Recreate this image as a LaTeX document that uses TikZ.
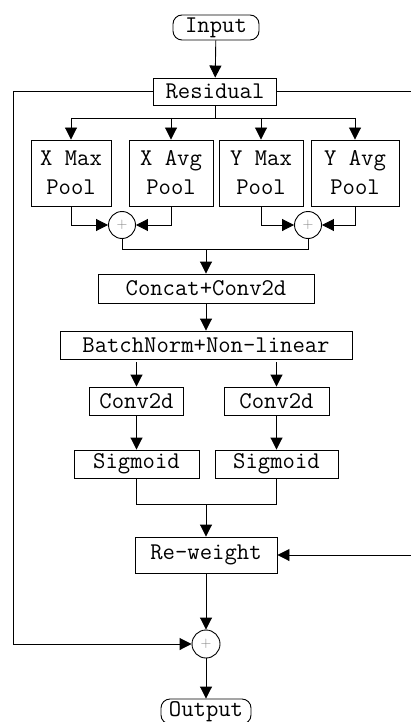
\documentclass[tikz,border=0pt]{standalone}
\usetikzlibrary{arrows.meta,calc}
\begin{document}
\begin{tikzpicture}[x=1pt,y=-1pt,
  box/.style={draw,line width=0.9pt,rectangle,inner sep=0pt,font=\ttfamily\fontsize{24}{29}\selectfont,align=center},
  term/.style={box,rounded corners=9pt},
  sum/.style={draw,line width=0.9pt,circle,inner sep=0pt,minimum size=27pt,text=gray,font=\fontsize{15}{15}\selectfont},
  arr/.style={line width=0.9pt,-{Triangle[length=12pt,width=12pt]}},
  ln/.style={line width=0.9pt}]
\useasboundingbox (0,0) rectangle (411,722);
% nodes
\node[term,minimum width=86pt,minimum height=25pt] (in) at (216,27.5) {Input};
\node[box,minimum width=123pt,minimum height=27pt] (res) at (215,91.5) {Residual};
\node[box,minimum width=80pt,minimum height=66pt] (xmax) at (71,173) {X Max\\Pool};
\node[box,minimum width=84pt,minimum height=66pt] (xavg) at (171,173) {X Avg\\Pool};
\node[box,minimum width=84pt,minimum height=66pt] (ymax) at (261,173) {Y Max\\Pool};
\node[box,minimum width=88pt,minimum height=66pt] (yavg) at (355,173) {Y Avg\\Pool};
\node[sum] (p1) at (122,225) {+};
\node[sum] (p2) at (308,225) {+};
\node[box,minimum width=216pt,minimum height=29pt] (cc) at (206,288.5) {Concat+Conv2d};
\node[box,minimum width=292pt,minimum height=28pt] (bn) at (206,345) {BatchNorm+Non-linear};
\node[box,minimum width=94pt,minimum height=28pt] (c1) at (136.5,401) {Conv2d};
\node[box,minimum width=105pt,minimum height=28pt] (c2) at (276.5,401) {Conv2d};
\node[box,minimum width=125pt,minimum height=28pt] (s1) at (136.5,464) {Sigmoid};
\node[box,minimum width=123pt,minimum height=28pt] (s2) at (276.5,464) {Sigmoid};
\node[box,minimum width=142pt,minimum height=36pt] (rw) at (206,555) {Re-weight};
\node[sum,minimum size=28pt] (p3) at (206,644) {+};
\node[term,minimum width=90pt,minimum height=25pt] (out) at (206,711.5) {Output};
% junctions
\coordinate (j1) at (215,118);
\coordinate (j2) at (206,249);
\coordinate (j3) at (206,504);
\coordinate (lft) at (13,644);
\coordinate (rgt) at (414,555);
% connectors
\draw[arr] (in) -- (res);
\draw[ln] (res.south) -- (j1);
\draw[ln] (xmax.north |- j1) -- (yavg.north |- j1);
\foreach \n in {xmax,xavg,ymax,yavg} \draw[arr] (\n.north |- j1) -- (\n.north);
\draw[arr] (xmax.south) |- (p1.west);
\draw[arr] (xavg.south) |- (p1.east);
\draw[arr] (ymax.south) |- (p2.west);
\draw[arr] (yavg.south) |- (p2.east);
\draw[ln] (p1.south) -- (p1.south |- j2) -- (p2.south |- j2) -- (p2.south);
\draw[arr] (cc.north |- j2) -- (cc.north);
\draw[arr] (cc) -- (bn);
\draw[arr] ([yshift=-3pt]bn.south -| c1.north) -- (c1.north);
\draw[arr] ([yshift=-3pt]bn.south -| c2.north) -- (c2.north);
\draw[arr] (c1) -- (s1);
\draw[arr] (c2) -- (s2);
\draw[ln] (s1.south) -- (s1.south |- j3) -- (s2.south |- j3) -- (s2.south);
\draw[arr] (rw.north |- j3) -- (rw.north);
\draw[arr] (rw) -- (p3);
\draw[arr] (p3) -- (out);
\draw[arr] (res.west) -| (lft) -- (p3.west);
\draw[arr] (res.east) -| (rgt) -- (rw.east);
\end{tikzpicture}
\end{document}
